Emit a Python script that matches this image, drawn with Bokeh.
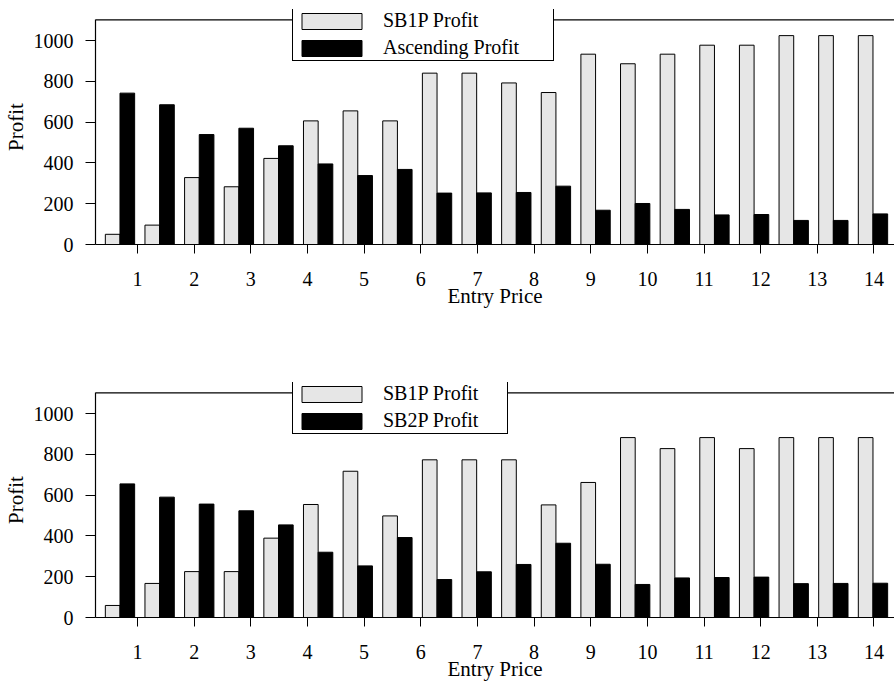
from bokeh.plotting import figure
from bokeh.models import (Range1d, FixedTicker, Legend, LegendItem, Span,
                          ColumnDataSource)
from bokeh.transform import dodge
from bokeh.layouts import column
from bokeh.embed import file_html
from bokeh.resources import INLINE

# ---- data ----
groups = list(range(1, 21))
sb1p_top = [50, 95, 328, 283, 422, 606, 655, 606, 840, 840,
            792, 745, 933, 886, 933, 977, 977, 1024, 1024, 1024]
ascending_top = [742, 685, 539, 570, 484, 395, 338, 368, 252, 253,
                 255, 286, 168, 201, 172, 145, 147, 118, 118, 150]
sb1p_bottom = [59, 167, 225, 225, 389, 554, 717, 498, 773, 773,
               773, 552, 662, 882, 828, 882, 828, 882, 882, 882]
sb2p_bottom = [655, 590, 556, 523, 454, 320, 253, 392, 186, 224,
               260, 364, 261, 162, 194, 196, 198, 166, 167, 168]
x_ticks = list(range(1, 15))
y_ticks = [0, 200, 400, 600, 800, 1000]
Y_FRAME_TOP = 1101   # value where the plot frame's top line sits

FONT = "Liberation Serif"
LIGHT = "#e6e6e6"


def make_chart(light, dark, light_label, dark_label, height, label_width):
    p = figure(width=894, height=height, output_backend="svg", toolbar_location=None,
               x_range=Range1d(0.2586, 14.362), y_range=Range1d(0, 1152),
               min_border_left=95, min_border_right=0, min_border_top=9,
               min_border_bottom=height - 244)
    p.extra_x_ranges = {"bars": Range1d(0.382, 20.543)}
    p.outline_line_color = None
    p.grid.visible = False
    p.background_fill_color = "white"

    src = ColumnDataSource(dict(group=groups, light=light, dark=dark))
    r1 = p.vbar(x=dodge("group", -0.185), top="light", width=0.37, source=src,
                x_range_name="bars", fill_color=LIGHT, line_color="black", line_width=1)
    r2 = p.vbar(x=dodge("group", 0.185), top="dark", width=0.37, source=src,
                x_range_name="bars", fill_color="black", line_color="black", line_width=1)

    # x axis
    xa = p.xaxis[0]
    xa.ticker = FixedTicker(ticks=x_ticks)
    xa.axis_label = "Entry Price"
    xa.major_tick_out = 9
    xa.major_tick_in = 0
    xa.minor_tick_out = 0
    xa.minor_tick_in = 0
    xa.major_label_standoff = 18
    xa.axis_label_standoff = -5
    # y axis
    ya = p.yaxis[0]
    ya.ticker = FixedTicker(ticks=y_ticks)
    ya.bounds = (0, Y_FRAME_TOP)
    ya.axis_label = "Profit"
    ya.major_tick_out = 10
    ya.major_tick_in = 0
    ya.minor_tick_out = 0
    ya.minor_tick_in = 0
    ya.major_label_standoff = 12
    ya.axis_label_standoff = 3
    for ax in (xa, ya):
        ax.axis_line_color = "black"
        ax.axis_line_width = 1.2
        ax.major_tick_line_color = "black"
        ax.major_label_text_font = FONT
        ax.major_label_text_font_size = "20px"
        ax.major_label_text_color = "black"
        ax.axis_label_text_font = FONT
        ax.axis_label_text_font_size = "21px"
        ax.axis_label_text_font_style = "normal"
        ax.axis_label_text_color = "black"

    # top line of the frame
    p.add_layout(Span(location=Y_FRAME_TOP, dimension="width",
                      line_color="black", line_width=1.2))

    legend = Legend(items=[LegendItem(label=light_label, renderers=[r1]),
                           LegendItem(label=dark_label, renderers=[r2])],
                    location=(197, 183), orientation="vertical",
                    border_line_color="black", border_line_width=1.5, border_line_alpha=1,
                    background_fill_color="white", background_fill_alpha=1,
                    padding=1, spacing=4, margin=0,
                    glyph_width=75, glyph_height=20, label_standoff=14,
                    label_width=label_width, label_height=16,
                    label_text_font=FONT, label_text_font_size="20px",
                    label_text_color="black")
    p.add_layout(legend)
    return p


p1 = make_chart(sb1p_top, ascending_top, "SB1P Profit", "Ascending Profit", 373, 169)
p2 = make_chart(sb1p_bottom, sb2p_bottom, "SB1P Profit", "SB2P Profit", 311, 123)

layout = column(p1, p2, spacing=0)
open("out.html", "w").write(file_html(layout, INLINE))
